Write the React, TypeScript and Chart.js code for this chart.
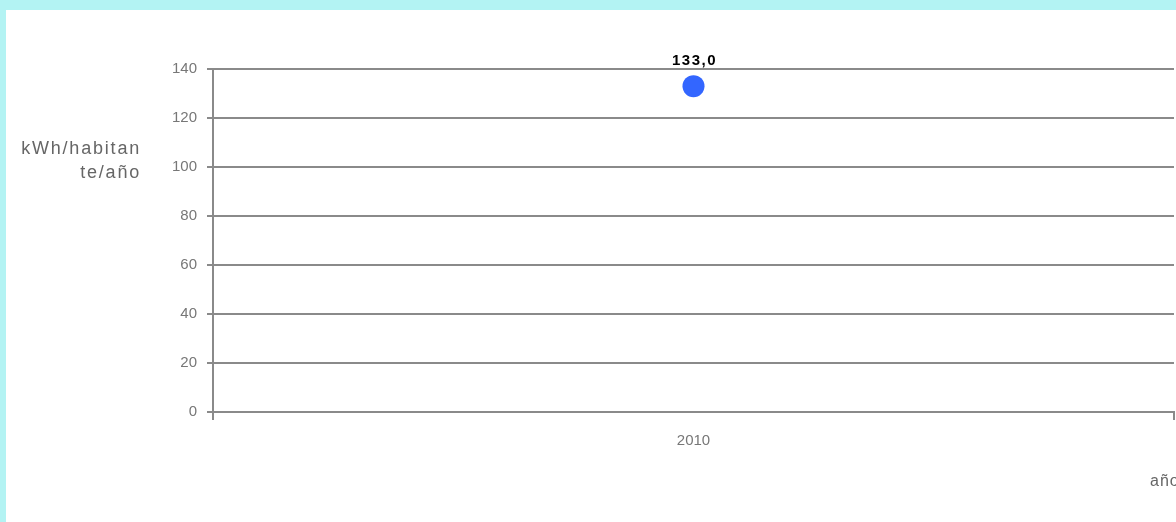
import { useEffect, useRef } from 'react';
import { Chart, registerables } from 'chart.js';

Chart.register(...registerables);

const categories: string[] = ['2010'];
const values: number[] = [133.0];
const yMin = 0;
const yMax = 140;
const yStep = 20;
const yTitleLines: string[] = ['kWh/habitan', 'te/año'];
const xTitle = 'año';
const valueLabels: string[] = ['133,0'];

const FONT = '"Liberation Sans", Arial, sans-serif';
const GRID = '#8a8a8a';
const TEXT = '#777777';

const textPlugin = {
  id: 'customText',
  afterDatasetsDraw(chart: any) {
    const ctx = chart.ctx as CanvasRenderingContext2D;
    ctx.save();
    // y axis title (two lines, right aligned)
    ctx.fillStyle = '#666666';
    ctx.font = `18px ${FONT}`;
    (ctx as any).letterSpacing = '1.8px';
    ctx.textAlign = 'right';
    ctx.textBaseline = 'middle';
    ctx.fillText(yTitleLines[0], 135, 139);
    ctx.fillText(yTitleLines[1], 135, 163);
    // x axis title
    ctx.textAlign = 'left';
    ctx.fillStyle = '#666666';
    ctx.font = `16px ${FONT}`;
    (ctx as any).letterSpacing = '1px';
    ctx.fillText(xTitle, 1144, 472);
    // value labels
    const meta = chart.getDatasetMeta(0);
    ctx.fillStyle = '#000000';
    ctx.font = `bold 15px ${FONT}`;
    (ctx as any).letterSpacing = '1.5px';
    ctx.textAlign = 'center';
    meta.data.forEach((pt: any, i: number) => {
      ctx.fillText(valueLabels[i], pt.x + 1, pt.y - 25);
    });
    ctx.restore();
  },
};

export default function App() {
  const ref = useRef<HTMLCanvasElement | null>(null);

  useEffect(() => {
    document.body.style.margin = '0';
    document.body.style.background = '#b3f3f3';
    document.body.style.overflow = 'hidden';
    if (!ref.current) return;
    const chart = new Chart(ref.current, {
      type: 'line',
      data: {
        labels: categories,
        datasets: [
          {
            data: values,
            showLine: false,
            pointRadius: 11,
            pointHoverRadius: 11,
            pointBackgroundColor: '#3366ff',
            pointBorderWidth: 0,
            borderColor: '#3366ff',
          },
        ],
      },
      options: {
        animation: false,
        responsive: false,
        maintainAspectRatio: false,
        layout: { padding: { top: 59, right: 0, left: 0, bottom: 0 } },
        plugins: {
          legend: { display: false },
          tooltip: { enabled: false },
        },
        scales: {
          x: {
            type: 'category',
            offset: true,
            grid: {
              offset: true,
              drawOnChartArea: false,
              drawTicks: true,
              tickLength: 8,
              color: GRID,
              lineWidth: 2,
            },
            border: { display: true, color: GRID, width: 2 },
            ticks: {
              color: TEXT,
              font: { size: 15, family: FONT },
              padding: 12,
            },
            afterFit: (s: any) => {
              s.height = 110;
            },
          },
          y: {
            min: yMin,
            max: yMax,
            ticks: {
              stepSize: yStep,
              color: TEXT,
              font: { size: 15, family: FONT },
              padding: 10,
            },
            grid: {
              color: GRID,
              lineWidth: 2,
              drawTicks: true,
              tickLength: 6,
            },
            border: { display: true, color: GRID, width: 2 },
            afterFit: (s: any) => {
              s.width = 207;
            },
          },
        },
      },
      plugins: [textPlugin],
    });
    return () => chart.destroy();
  }, []);

  return (
    <div
      style={{
        position: 'absolute',
        left: 6,
        top: 10,
        width: 1170,
        height: 512,
        background: '#ffffff',
        overflow: 'hidden',
      }}
    >
      <canvas ref={ref} width={1179} height={512} style={{ display: 'block' }} />
    </div>
  );
}
